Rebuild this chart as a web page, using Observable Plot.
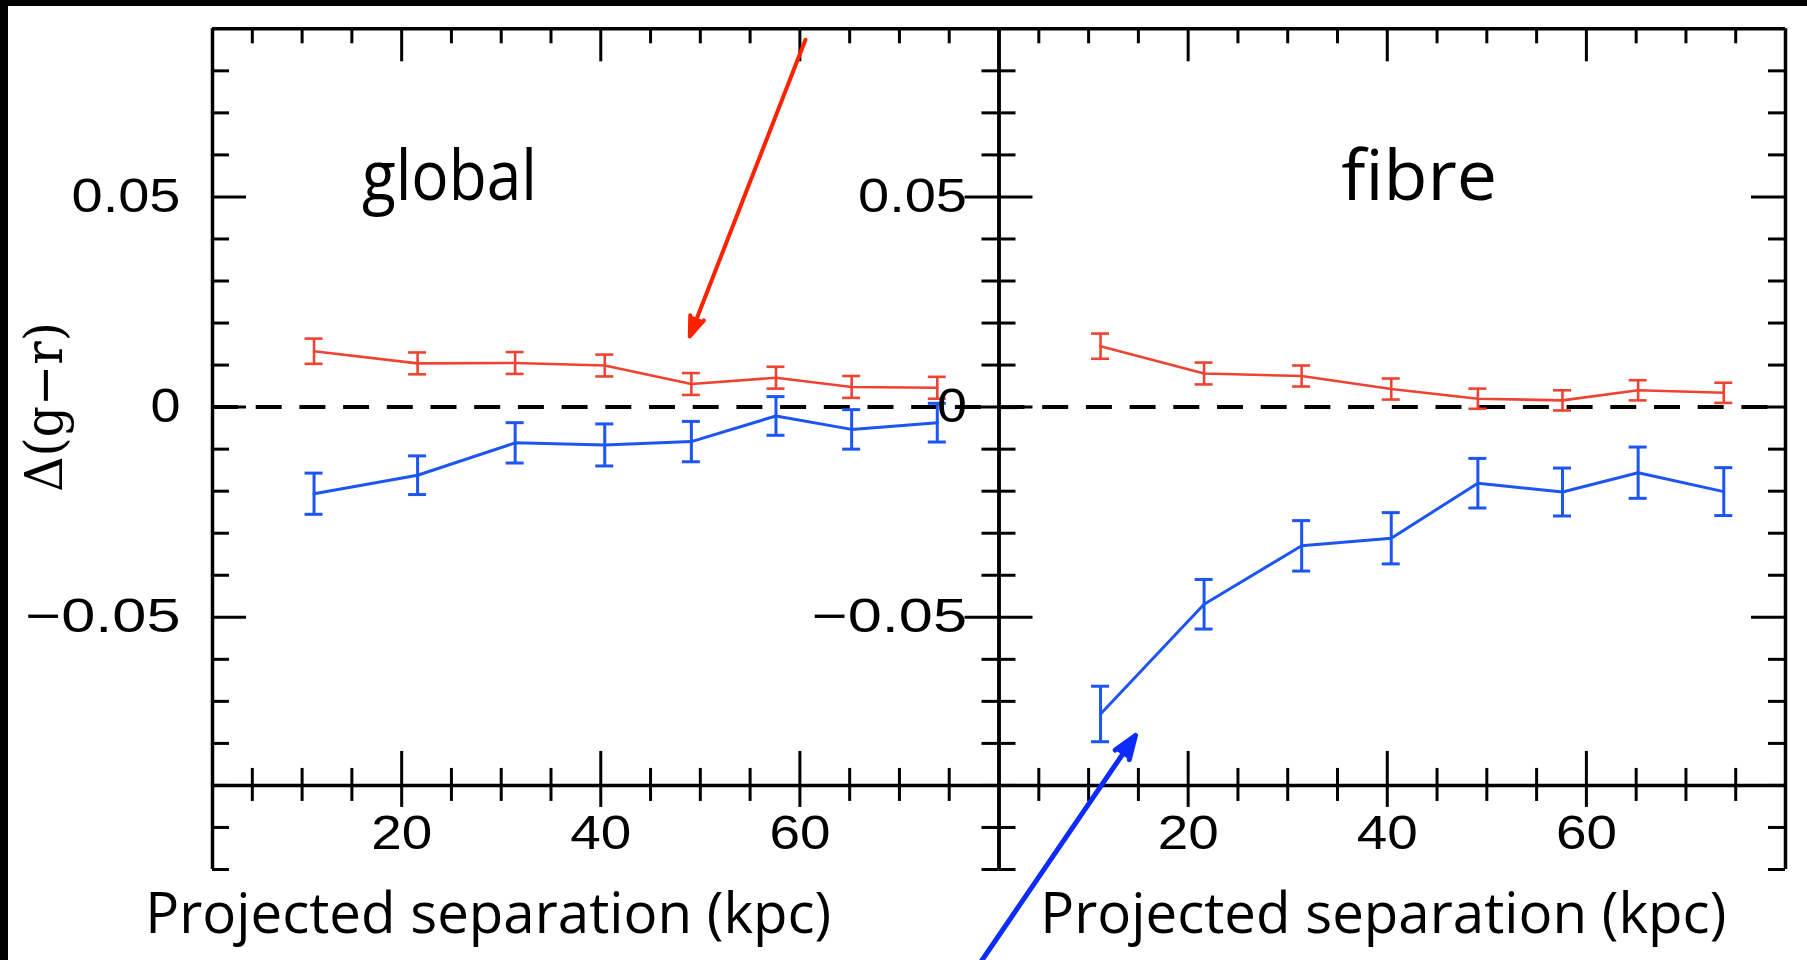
<!DOCTYPE html>
<html>
<head>
<meta charset="utf-8">
<script src="https://cdn.jsdelivr.net/npm/d3@7"></script>
<script src="https://cdn.jsdelivr.net/npm/@observablehq/plot@0.6"></script>
<style>
  html, body { margin: 0; padding: 0; background: #fff; }
  body { width: 1807px; height: 960px; position: relative; overflow: hidden; }
  .panel { position: absolute; top: 0; }
  #global { left: 0; }
  #fibre { left: 800px; }
  .bar { position: absolute; background: #000; z-index: 5; }
</style>
</head>
<body>
<div id="global" class="panel"></div>
<div id="fibre" class="panel"></div>
<div class="bar" style="left:0;top:0;width:1807px;height:6px"></div>
<div class="bar" style="left:0;top:0;width:8px;height:960px"></div>
<script>
// Colour offset Δ(g−r) of paired galaxies versus projected separation,
// measured from global and from fibre photometry.
const separation = [11.2, 21.6, 31.4, 40.4, 49.1, 57.6, 65.2, 73.8];

const globalRed     = [0.0133, 0.0104, 0.0105, 0.0099, 0.0055, 0.0070, 0.0048, 0.0046];
const globalRedErr  = [0.0030, 0.0026, 0.0026, 0.0026, 0.0026, 0.0026, 0.0026, 0.0026];
const globalBlue    = [-0.0206, -0.0162, -0.0085, -0.0090, -0.0082, -0.0021, -0.0053, -0.0037];
const globalBlueErr = [0.0049, 0.0046, 0.0048, 0.0050, 0.0048, 0.0046, 0.0047, 0.0046];

const fibreRed     = [0.0145, 0.0080, 0.0074, 0.0043, 0.0020, 0.0016, 0.0040, 0.0034];
const fibreRedErr  = [0.0030, 0.0026, 0.0025, 0.0025, 0.0024, 0.0024, 0.0024, 0.0024];
const fibreBlue    = [-0.0730, -0.0469, -0.0330, -0.0312, -0.0181, -0.0202, -0.0156, -0.0201];
const fibreBlueErr = [0.0066, 0.0059, 0.0060, 0.0061, 0.0059, 0.0057, 0.0061, 0.0057];

const xTicksMajor = [20, 40, 60];
const xTicksMinor = [5, 10, 15, 25, 30, 35, 45, 50, 55, 65, 70, 75];
const yTicksMajor = [0.05, 0, -0.05];
const yTicksMinor = [0.08, 0.07, 0.06, 0.04, 0.03, 0.02, 0.01, -0.01, -0.02, -0.03, -0.04,
                     -0.06, -0.07, -0.08, -0.09, -0.10, -0.11];

const xLabel = "Projected separation (kpc)";
const yLabel = "Δ(g−r)";

const X_DOMAIN = [1, 80];
const Y_DOMAIN = [-0.11, 0.09];
const AXIS_Y = -0.09;           // level at which the separation axis is drawn
const RED = "#ee4332", BLUE = "#1d55f3";
const INK = "#000";
const fmt = d3.format("~g");

// on-page width of each label, in pixels
const labelWidth = new Map([
  ["global", 175], ["fibre", 156], [xLabel, 686], [yLabel, 170],
  ["0.05", 109], ["0", 30], ["−0.05", 155], ["20", 61], ["40", 61], ["60", 61]
]);

function rows(values, errors) {
  return separation.map((x, i) => ({x, y: values[i], lo: values[i] - errors[i], hi: values[i] + errors[i]}));
}

function seriesMarks(data, color, w) {
  return [
    Plot.line(data, {x: "x", y: "y", stroke: color, strokeWidth: w}),
    Plot.ruleX(data, {x: "x", y1: "lo", y2: "hi", stroke: color, strokeWidth: w}),
    Plot.ruleY(data, {y: "lo", x1: "x", x2: "x", insetLeft: -9, insetRight: -9, stroke: color, strokeWidth: w}),
    Plot.ruleY(data, {y: "hi", x1: "x", x2: "x", insetLeft: -9, insetRight: -9, stroke: color, strokeWidth: w})
  ];
}

function axesMarks() {
  const [x0, x1] = X_DOMAIN, yTop = Y_DOMAIN[1];
  const s = {stroke: INK, strokeWidth: 3};
  return [
    // inward ticks on the left and right borders
    Plot.ruleY(yTicksMinor, {y: d => d, x1: x0, x2: x0, insetRight: -17, ...s}),
    Plot.ruleY(yTicksMajor, {y: d => d, x1: x0, x2: x0, insetRight: -34, ...s}),
    Plot.ruleY(yTicksMinor, {y: d => d, x1: x1, x2: x1, insetLeft: -17, ...s}),
    Plot.ruleY(yTicksMajor, {y: d => d, x1: x1, x2: x1, insetLeft: -34, ...s}),
    // inward ticks on the top border
    Plot.ruleX(xTicksMinor, {x: d => d, y1: yTop, y2: yTop, insetBottom: -15, ...s}),
    Plot.ruleX(xTicksMajor, {x: d => d, y1: yTop, y2: yTop, insetBottom: -33, ...s}),
    // separation axis with crossing ticks
    Plot.ruleY([AXIS_Y], {stroke: INK, strokeWidth: 3.5}),
    Plot.ruleX(xTicksMinor, {x: d => d, y1: AXIS_Y, y2: AXIS_Y, insetTop: -17, insetBottom: -16, ...s}),
    Plot.ruleX(xTicksMajor, {x: d => d, y1: AXIS_Y, y2: AXIS_Y, insetTop: -34, insetBottom: -22, ...s}),
    // frame: left, right and top
    Plot.ruleX(X_DOMAIN, {x: d => d, stroke: INK, strokeWidth: 3.5}),
    Plot.ruleY([yTop], {y: d => d, stroke: INK, strokeWidth: 3.5}),
    // tick labels
    Plot.text(yTicksMajor, {x: x0, y: d => d, text: d => fmt(d), textAnchor: "end", dx: -32,
      fontSize: 47.5, fontFamily: "Liberation Sans", fill: INK}),
    Plot.text(xTicksMajor, {x: d => d, y: AXIS_Y, text: d => String(d), dy: 48,
      fontSize: 47.5, fontFamily: "Liberation Sans", fill: INK})
  ];
}

function panel({id, name, red, redErr, blue, blueErr, width, marginLeft, marginRight,
                nameX, xLabelX, arrow, arrowColor, arrowWidth, arrowHead, withYLabel}) {
  const marks = [
    Plot.ruleY([0], {stroke: INK, strokeWidth: 4, strokeDasharray: "26,17.7"}),
    ...seriesMarks(rows(red, redErr), RED, 2.6),
    ...seriesMarks(rows(blue, blueErr), BLUE, 3),
    ...axesMarks(),
    Plot.text([name], {x: nameX, y: 0.0492, text: d => d, lineAnchor: "bottom",
      fontSize: 70, fontFamily: "Open Sans", fill: INK}),
    Plot.text([xLabel], {x: xLabelX, y: -0.1252, text: d => d, lineAnchor: "bottom",
      fontSize: 57, fontFamily: "Open Sans", fill: INK}),
    Plot.arrow([arrow], {x1: "x1", y1: "y1", x2: "x2", y2: "y2", stroke: arrowColor, fill: arrowColor,
      strokeWidth: arrowWidth, headLength: arrowHead, headAngle: 40})
  ];
  if (withYLabel) {
    marks.push(Plot.text([yLabel], {x: -15.8, y: 0, text: d => d, rotate: -90,
      fontSize: 52, fontFamily: "DejaVu Serif", fill: INK}));
  }
  const chart = Plot.plot({
    width, height: 960,
    marginLeft, marginRight, marginTop: 28.3, marginBottom: 91,
    style: {background: "transparent", maxWidth: "none", overflow: "visible"},
    x: {domain: X_DOMAIN, axis: null},
    y: {domain: Y_DOMAIN, axis: null},
    marks
  });
  // stretch each label to the width it occupies on the page
  chart.querySelectorAll("text").forEach(t => {
    const len = labelWidth.get(t.textContent.trim());
    if (len) {
      t.setAttribute("textLength", len);
      t.setAttribute("lengthAdjust", "spacingAndGlyphs");
    }
  });
  document.getElementById(id).append(chart);
}

panel({
  id: "global", name: "global",
  red: globalRed, redErr: globalRedErr, blue: globalBlue, blueErr: globalBlueErr,
  width: 1000, marginLeft: 212, marginRight: 1.5,
  nameX: 24.8, xLabelX: 28.7,
  arrow: {x1: 60.56, y1: 0.0874, x2: 48.94, y2: 0.0168},
  arrowColor: "#ff2200", arrowWidth: 4, arrowHead: 8, withYLabel: true
});

panel({
  id: "fibre", name: "fibre",
  red: fibreRed, redErr: fibreRedErr, blue: fibreBlue, blueErr: fibreBlueErr,
  width: 1007, marginLeft: 198.5, marginRight: 22,
  nameX: 43.2, xLabelX: 39.6,
  arrow: {x1: -1.06, y1: -0.1328, x2: 14.71, y2: -0.0781},
  arrowColor: "#0b2bff", arrowWidth: 5, arrowHead: 7.5, withYLabel: false
});
</script>
</body>
</html>
